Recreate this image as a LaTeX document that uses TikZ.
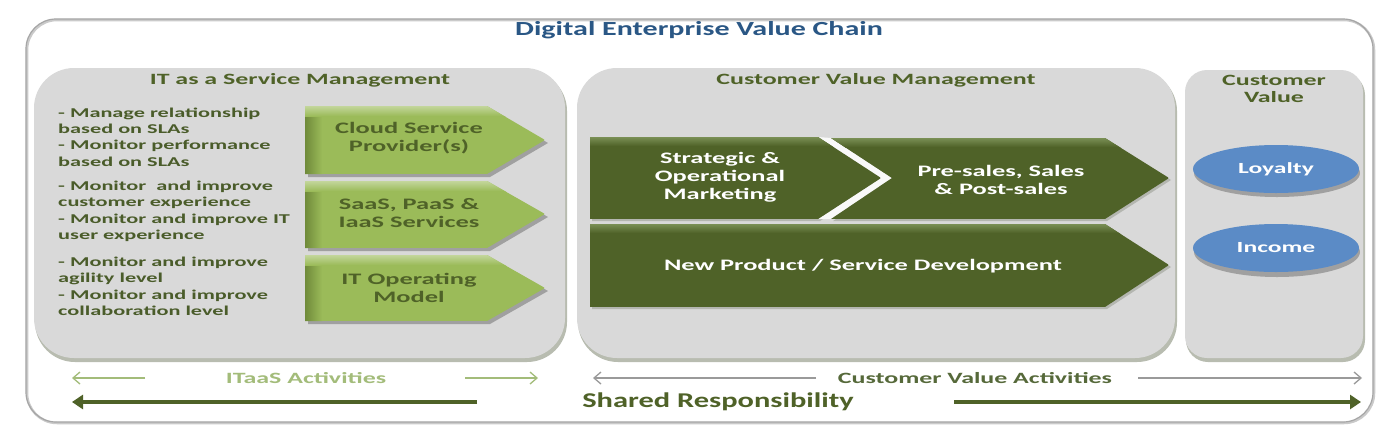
\documentclass[tikz,border=0pt]{standalone}
\usepackage{fontspec}
\setmainfont{Carlito}[FakeStretch=1.65]
\newfontfamily\titlefont{Carlito}[FakeStretch=1.5]
\newfontfamily\sharedfont{Carlito}[FakeStretch=1.45]
\usetikzlibrary{arrows.meta,shapes.geometric}
\definecolor{dkgreen}{HTML}{4F6228}
\definecolor{ltgreen}{HTML}{9BBB59}
\definecolor{ltbevel}{HTML}{6F8A3A}
\definecolor{dkbevel}{HTML}{7A8F55}
\definecolor{panelgray}{HTML}{D9D9D9}
\definecolor{panelshadow}{HTML}{B8BCB0}
\definecolor{framegray}{HTML}{A6A6A6}
\definecolor{titleblue}{HTML}{2A5785}
\definecolor{ellblue}{HTML}{5B8BC6}
\definecolor{arrowshadow}{HTML}{A0A0A0}
\definecolor{dkshadow}{HTML}{B4B6B0}
\definecolor{itgreen}{HTML}{A3BC7A}
\definecolor{cvagreen}{HTML}{56693A}
\definecolor{linegray}{HTML}{9A9A9A}
\definecolor{bullettxt}{HTML}{4A5C2A}

\newcommand\ltarrowshape[3]{% #1 top, #2 bottom, #3 middle
  \fill[arrowshadow] (308,#1+3) -- (490,#1+3) -- (548,#3+3) -- (490,#2+3) -- (308,#2+3) -- cycle;
  \begin{scope}
    \clip (305,#1) -- (487,#1) -- (545,#3) -- (487,#2) -- (305,#2) -- cycle;
    \fill[ltgreen] (305,#1) rectangle (545,#2);
    \shade[left color=ltbevel, right color=ltgreen] (305,#1) rectangle (322,#2);
    \shade[top color=ltgreen!60!white, bottom color=ltgreen] (305,#1) rectangle (545,#1+10);
  \end{scope}
}

\begin{document}
\begin{tikzpicture}[x=1pt,y=-1pt,
  hdr/.style={font=\bfseries\fontsize{15.7}{17}\selectfont, text=dkgreen, inner sep=0, align=center},
  bul/.style={font=\bfseries\fontsize{13.5}{16.4}\selectfont, text=bullettxt, inner sep=0, align=left, anchor=west},
  lttxt/.style={font=\bfseries\fontsize{16}{18}\selectfont, text=dkgreen, inner sep=0, align=center},
  dktxt/.style={font=\bfseries\fontsize{16}{18}\selectfont, text=white, inner sep=0, align=center},
  ell/.style={ellipse, fill=ellblue, minimum width=166pt, minimum height=48pt, inner sep=0,
              font=\bfseries\fontsize{15.5}{17}\selectfont, text=white},
  lbl/.style={font=\bfseries\fontsize{15.7}{17}\selectfont, inner sep=0},
  thinarrow/.style={line width=1.3pt, -{Straight Barb[length=7pt,width=12pt]}},
  thickarrow/.style={line width=4.5pt, draw=dkgreen, -{Triangle[length=11pt,width=14pt]}}
]
\fill[white] (0,0) rectangle (1400,440);
\useasboundingbox (0,0) rectangle (1400,440);

% outer frame
\draw[framegray!60, line width=2.5pt, rounded corners=30pt] (27,20) rectangle (1374,423);
\draw[framegray, line width=1.2pt, rounded corners=30pt] (26,19) rectangle (1373,422);

% title
\node[font=\titlefont\bfseries\fontsize{20}{22}\selectfont, text=titleblue, inner sep=0] (t-title) at (699,30) {Digital Enterprise Value Chain};

% panels
\fill[panelshadow, rounded corners=40pt] (35,71) rectangle (567,362);
\fill[panelgray, rounded corners=40pt] (34,68) rectangle (565,358);
\fill[panelshadow, rounded corners=40pt] (578,71) rectangle (1177,362);
\fill[panelgray, rounded corners=40pt] (577,68) rectangle (1175,358);
\fill[panelshadow, rounded corners=22pt] (1186,73) rectangle (1365,362);
\fill[panelgray, rounded corners=22pt] (1185,70) rectangle (1363,358);

% headers
\node[hdr] (h-itsm) at (300,80) {IT as a Service Management};
\node[hdr] (h-cvm) at (876,80) {Customer Value Management};
\node[hdr] (h-cv) at (1274,89) {Customer\\Value};

% bullet texts
\node[bul] (b1) at (58,137) {- Manage relationship\\based on SLAs\\- Monitor performance\\based on SLAs};
\node[bul] (b2) at (58,211.5) {- Monitor\ \ and improve\\customer experience\\- Monitor and improve IT\\user experience};
\node[bul] (b3) at (58,286.5) {- Monitor and improve\\agility level\\- Monitor and improve\\collaboration level};

% light green arrows
\ltarrowshape{106}{174}{140}
\ltarrowshape{181}{248}{214}
\ltarrowshape{255}{321}{288}
\node[lttxt] (a-cloud) at (409,138) {Cloud Service\\Provider(s)};
\node[lttxt] (a-saas) at (409,213) {SaaS, PaaS \&\\IaaS Services};
\node[lttxt] (a-itom) at (409,288) {IT Operating\\Model};

% dark green arrows: shadows
\fill[dkshadow] (592,139) -- (820,139) -- (883,180) -- (820,221) -- (592,221) -- cycle;
\fill[dkshadow] (833,140) -- (1107,140) -- (1171,180) -- (1107,221) -- (833,221) -- (894,180) -- cycle;
\fill[dkshadow] (592,226) -- (1107,226) -- (1171,267) -- (1107,309) -- (592,309) -- cycle;
% white gap between the two upper chevrons
\fill[white!85!panelgray] (818,137) -- (831,138) -- (892,178) -- (831,219) -- (818,219) -- (881,178) -- cycle;
% dark green arrows
\begin{scope}
  \clip (590,137) -- (818,137) -- (881,178) -- (818,219) -- (590,219) -- cycle;
  \fill[dkgreen] (590,137) rectangle (881,219);
  \shade[top color=dkbevel, bottom color=dkgreen] (590,137) rectangle (881,146);
\end{scope}
\begin{scope}
  \clip (831,138) -- (1105,138) -- (1169,178) -- (1105,219) -- (831,219) -- (892,178) -- cycle;
  \fill[dkgreen] (831,138) rectangle (1169,219);
  \shade[top color=dkbevel, bottom color=dkgreen] (831,138) rectangle (1169,147);
\end{scope}
\begin{scope}
  \clip (590,224) -- (1105,224) -- (1169,265) -- (1105,307) -- (590,307) -- cycle;
  \fill[dkgreen] (590,224) rectangle (1169,307);
  \shade[top color=dkbevel, bottom color=dkgreen] (590,224) rectangle (1169,233);
\end{scope}
\node[dktxt] (a-strat) at (720,177) {Strategic \&\\Operational\\Marketing};
\node[dktxt] (a-sales) at (1001,180) {Pre-sales, Sales\\\& Post-sales};
\node[dktxt] (a-npd) at (863,266) {New Product / Service Development};

% ellipses
\fill[arrowshadow] (1277,173) ellipse [x radius=83pt, y radius=24pt];
\node[ell] (loyalty) at (1276,169) {Loyalty};
\fill[arrowshadow] (1277,252) ellipse [x radius=83pt, y radius=25pt];
\node[ell] (income) at (1276,248) {Income};

% activity labels and arrows
\node[lbl, text=itgreen] (l-itaas) at (306,378) {ITaaS Activities};
\coordinate (it-l-tip) at (72,378);
\coordinate (it-l-end) at (145,378);
\coordinate (it-r-start) at (465,378);
\coordinate (it-r-tip) at (538,378);
\draw[thinarrow, draw=itgreen] (it-l-end) -- (it-l-tip);
\draw[thinarrow, draw=itgreen] (it-r-start) -- (it-r-tip);

\node[lbl, text=cvagreen] (l-cva) at (975,378) {Customer Value Activities};
\coordinate (cv-l-tip) at (593,378);
\coordinate (cv-l-end) at (816,378);
\coordinate (cv-r-start) at (1138,378);
\coordinate (cv-r-tip) at (1362,378);
\draw[thinarrow, draw=linegray] (cv-l-end) -- (cv-l-tip);
\draw[thinarrow, draw=linegray] (cv-r-start) -- (cv-r-tip);

\node[font=\sharedfont\bfseries\fontsize{21}{23}\selectfont, text=dkgreen, inner sep=0] (l-shared) at (718,402) {Shared Responsibility};
\coordinate (sh-l-tip) at (72,402);
\coordinate (sh-l-end) at (477,402);
\coordinate (sh-r-start) at (954,402);
\coordinate (sh-r-tip) at (1361,402);
\draw[thickarrow] (sh-l-end) -- (sh-l-tip);
\draw[thickarrow] (sh-r-start) -- (sh-r-tip);
\end{tikzpicture}
\end{document}
